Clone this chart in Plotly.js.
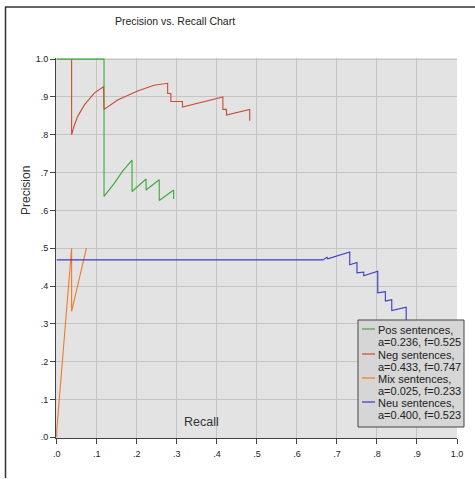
<!DOCTYPE html>
<html>
<head>
<meta charset="utf-8">
<script src="https://cdn.plot.ly/plotly-3.0.1.min.js"></script>
<style>
html,body{margin:0;padding:0;background:#fff;}
#chart{width:475px;height:479px;}
</style>
</head>
<body>
<div id="chart"></div>
<script>
// ---- data ----
var seriesNames = ["Pos sentences,", "Neg sentences,", "Mix sentences,", "Neu sentences,"];
var seriesStats = ["a=0.236, f=0.525", "a=0.433, f=0.747", "a=0.025, f=0.233", "a=0.400, f=0.523"];
var seriesColors = ["#3aaa3a", "#cc4a36", "#ee7a2a", "#3a3acc"];

var posRecall    = [0, 0.118, 0.118, 0.144, 0.164, 0.188, 0.188, 0.223, 0.223, 0.256, 0.256, 0.292, 0.292];
var posPrecision = [1.0, 1.0, 0.637, 0.672, 0.703, 0.733, 0.650, 0.683, 0.654, 0.681, 0.626, 0.654, 0.630];

var negRecall    = [0.037, 0.037, 0.044, 0.052, 0.069, 0.094, 0.117, 0.118, 0.152, 0.202, 0.243, 0.277, 0.277, 0.285, 0.285, 0.314, 0.314, 0.415, 0.415, 0.424, 0.424, 0.482, 0.482];
var negPrecision = [1.0, 0.800, 0.826, 0.848, 0.879, 0.911, 0.927, 0.867, 0.892, 0.916, 0.931, 0.936, 0.909, 0.909, 0.888, 0.888, 0.873, 0.900, 0.867, 0.867, 0.852, 0.867, 0.837];

var mixRecall    = [0, 0, 0.037, 0.037, 0.074];
var mixPrecision = [0, 0.02, 0.50, 0.333, 0.50];

var neuRecall    = [0, 0.665, 0.675, 0.677, 0.732, 0.732, 0.750, 0.750, 0.767, 0.767, 0.802, 0.802, 0.821, 0.821, 0.837, 0.837, 0.873, 0.873];
var neuPrecision = [0.469, 0.469, 0.476, 0.472, 0.490, 0.456, 0.462, 0.435, 0.437, 0.427, 0.439, 0.382, 0.385, 0.360, 0.364, 0.335, 0.344, 0.300];

var tickVals  = [0, 0.1, 0.2, 0.3, 0.4, 0.5, 0.6, 0.7, 0.8, 0.9, 1.0];
var tickTexts = [".0", ".1", ".2", ".3", ".4", ".5", ".6", ".7", ".8", ".9", "1.0"];

var xs = [posRecall, negRecall, mixRecall, neuRecall];
var ys = [posPrecision, negPrecision, mixPrecision, neuPrecision];

var traces = xs.map(function (x, i) {
  return {
    x: x, y: ys[i], type: "scatter", mode: "lines",
    name: seriesNames[i] + " " + seriesStats[i],
    line: {color: seriesColors[i], width: 1.1},
    showlegend: false, hoverinfo: "skip"
  };
});

// plot area geometry (px) used to place the hand-made legend and labels
var L = 56, R = 18, T = 58, B = 41, W = 475, H = 479;
var pw = W - L - R, ph = H - T - B;
function px2x(p) { return (p - L) / pw; }
function py2y(p) { return (H - B - p) / ph; }

var FONT = "Liberation Sans, Arial, sans-serif";

var shapes = [
  // outer frame lines
  {type: "line", xref: "paper", yref: "paper", x0: px2x(5), x1: px2x(475), y0: py2y(7), y1: py2y(7), line: {color: "#333", width: 1.5}},
  {type: "line", xref: "paper", yref: "paper", x0: px2x(5.5), x1: px2x(5.5), y0: py2y(7), y1: py2y(478), line: {color: "#333", width: 1.5}},
  // legend box
  {type: "rect", xref: "paper", yref: "paper", x0: px2x(358), x1: px2x(464), y0: py2y(320), y1: py2y(427),
   fillcolor: "#d6d6d6", line: {color: "#444", width: 1}}
];
var annotations = [
  {text: "Recall", xref: "paper", yref: "paper", x: px2x(201), y: py2y(422), xanchor: "center", yanchor: "middle",
   showarrow: false, font: {family: FONT, size: 12.5, color: "#333"}},
  {text: "Precision", xref: "paper", yref: "paper", x: px2x(26), y: py2y(191), xanchor: "center", yanchor: "middle",
   textangle: -90, showarrow: false, font: {family: FONT, size: 12, color: "#333"}}
];
var rowY = [330, 355, 379, 403];
for (var i = 0; i < 4; i++) {
  shapes.push({type: "line", xref: "paper", yref: "paper", x0: px2x(362), x1: px2x(375),
    y0: py2y(rowY[i] - 1), y1: py2y(rowY[i] - 1), line: {color: seriesColors[i], width: 1.2}});
  annotations.push({text: seriesNames[i], xref: "paper", yref: "paper", x: px2x(376), y: py2y(rowY[i]),
    xanchor: "left", yanchor: "middle", showarrow: false,
    font: {family: FONT, size: 11, color: "#222"}});
  annotations.push({text: seriesStats[i], xref: "paper", yref: "paper", x: px2x(376), y: py2y(rowY[i] + 11.5),
    xanchor: "left", yanchor: "middle", showarrow: false,
    font: {family: FONT, size: 11, color: "#222"}});
}

var axisCommon = {
  tickmode: "array", tickvals: tickVals, ticktext: tickTexts,
  showgrid: true, gridcolor: "#c4c4c4", gridwidth: 1,
  zeroline: false, showline: true, linecolor: "#444", linewidth: 1,
  ticks: "outside", ticklen: 5, tickcolor: "#444", tickwidth: 1,
  tickfont: {family: FONT, size: 9, color: "#222"},
  fixedrange: true
};

var layout = {
  width: W, height: H,
  margin: {l: L, r: R, t: T, b: B, pad: 0},
  paper_bgcolor: "#ffffff",
  plot_bgcolor: "#e3e3e3",
  title: {text: "Precision vs. Recall Chart", xref: "container", yref: "container",
          x: 175 / W, xanchor: "center", y: 1 - 21 / H, yanchor: "middle",
          font: {family: FONT, size: 10.5, color: "#222"}},
  xaxis: Object.assign({}, axisCommon, {range: [-0.002, 1.0], ticklabelstandoff: 2}),
  yaxis: Object.assign({}, axisCommon, {range: [-0.002, 1.003]}),
  shapes: shapes,
  annotations: annotations,
  showlegend: false
};

Plotly.newPlot("chart", traces, layout, {staticPlot: true, displayModeBar: false});
</script>
</body>
</html>
